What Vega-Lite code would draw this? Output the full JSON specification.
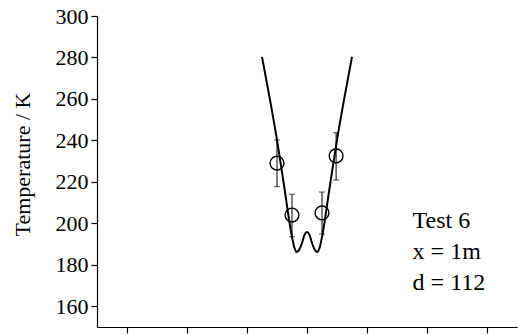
{
  "$schema": "https://vega.github.io/schema/vega-lite/v6.json",
  "width": 420,
  "height": 311,
  "autosize": {"type": "none"},
  "padding": {"left": 97, "top": 16, "right": 1, "bottom": 7},
  "background": "white",
  "config": {
    "view": {"stroke": null},
    "font": "Liberation Serif, Times New Roman, serif",
    "text": {"font": "Liberation Serif, Times New Roman, serif"},
    "axis": {
      "grid": false,
      "domainColor": "black",
      "domainWidth": 1.2,
      "tickColor": "black",
      "tickWidth": 1.2,
      "labelFont": "Liberation Serif, Times New Roman, serif",
      "labelColor": "black",
      "titleFont": "Liberation Serif, Times New Roman, serif",
      "titleColor": "black",
      "titleFontWeight": "normal"
    }
  },
  "datasets": {
    "profile": [
      {"x": 5.5, "T": 280.3},
      {"x": 5.75, "T": 260.9},
      {"x": 6.0, "T": 240.2},
      {"x": 6.25, "T": 216.8},
      {"x": 6.5, "T": 193.4},
      {"x": 6.583, "T": 188.1},
      {"x": 6.65, "T": 186.2},
      {"x": 6.733, "T": 187.1},
      {"x": 6.833, "T": 190.5},
      {"x": 6.917, "T": 194.4},
      {"x": 7.0, "T": 195.8},
      {"x": 7.083, "T": 194.4},
      {"x": 7.167, "T": 190.5},
      {"x": 7.267, "T": 187.1},
      {"x": 7.35, "T": 186.2},
      {"x": 7.417, "T": 188.1},
      {"x": 7.5, "T": 193.4},
      {"x": 7.75, "T": 216.8},
      {"x": 8.0, "T": 240.2},
      {"x": 8.25, "T": 260.9},
      {"x": 8.5, "T": 280.3}
    ],
    "measured": [
      {"x": 6.0, "T": 229, "lo": 217.7, "hi": 240.2},
      {"x": 6.5, "T": 204, "lo": 193.5, "hi": 214},
      {"x": 7.5, "T": 205, "lo": 194.8, "hi": 215.1},
      {"x": 7.97, "T": 232.5, "lo": 220.9, "hi": 243.7}
    ],
    "caption": [
      {"label": "Test 6\nx = 1m\nd = 112", "x": 10.52, "T": 197.6}
    ]
  },
  "layer": [
    {
      "data": {"name": "profile"},
      "mark": {"type": "line", "interpolate": "monotone", "color": "black", "strokeWidth": 2},
      "encoding": {
        "x": {
          "field": "x",
          "type": "quantitative",
          "scale": {"domain": [0, 14], "nice": false, "zero": false},
          "axis": {
            "values": [1, 2, 3, 4, 5, 6, 7, 8, 9, 10, 11, 12, 13, 14],
            "labels": false,
            "title": null,
            "tickSize": {"condition": {"test": "datum.value % 2 === 1", "value": 6}, "value": 3}
          }
        },
        "y": {
          "field": "T",
          "type": "quantitative",
          "scale": {"domain": [150, 300], "nice": false, "zero": false},
          "axis": {
            "values": [160, 170, 180, 190, 200, 210, 220, 230, 240, 250, 260, 270, 280, 290, 300],
            "labelExpr": "datum.value % 20 === 0 ? datum.label : ''",
            "labelFontSize": 22,
            "labelPadding": 3,
            "labelOverlap": false,
            "labelFlush": false,
            "labelBound": false,
            "tickSize": {"condition": {"test": "datum.value % 20 === 0", "value": 6}, "value": 3},
            "title": "Temperature / K",
            "titleFontSize": 22,
            "titleAngle": -90,
            "titleAlign": "center",
            "titleBaseline": "alphabetic",
            "titleX": -68,
            "titleY": 148
          }
        }
      }
    },
    {
      "data": {"name": "measured"},
      "mark": {"type": "rule", "color": "black", "strokeWidth": 1},
      "encoding": {
        "x": {"field": "x", "type": "quantitative"},
        "y": {"field": "lo", "type": "quantitative"},
        "y2": {"field": "hi"}
      }
    },
    {
      "data": {"name": "measured"},
      "mark": {"type": "tick", "orient": "horizontal", "size": 6, "thickness": 1, "color": "black"},
      "encoding": {
        "x": {"field": "x", "type": "quantitative"},
        "y": {"field": "lo", "type": "quantitative"}
      }
    },
    {
      "data": {"name": "measured"},
      "mark": {"type": "tick", "orient": "horizontal", "size": 6, "thickness": 1, "color": "black"},
      "encoding": {
        "x": {"field": "x", "type": "quantitative"},
        "y": {"field": "hi", "type": "quantitative"}
      }
    },
    {
      "data": {"name": "measured"},
      "mark": {"type": "point", "shape": "circle", "size": 190, "filled": false, "stroke": "black", "strokeWidth": 1.4, "opacity": 1},
      "encoding": {
        "x": {"field": "x", "type": "quantitative"},
        "y": {"field": "T", "type": "quantitative"}
      }
    },
    {
      "data": {"name": "caption"},
      "mark": {"type": "text", "align": "left", "baseline": "alphabetic", "lineBreak": "\n", "lineHeight": 31, "fontSize": 24, "font": "Liberation Serif, Times New Roman, serif", "color": "black"},
      "encoding": {
        "x": {"field": "x", "type": "quantitative"},
        "y": {"field": "T", "type": "quantitative"},
        "text": {"field": "label"}
      }
    }
  ]
}
